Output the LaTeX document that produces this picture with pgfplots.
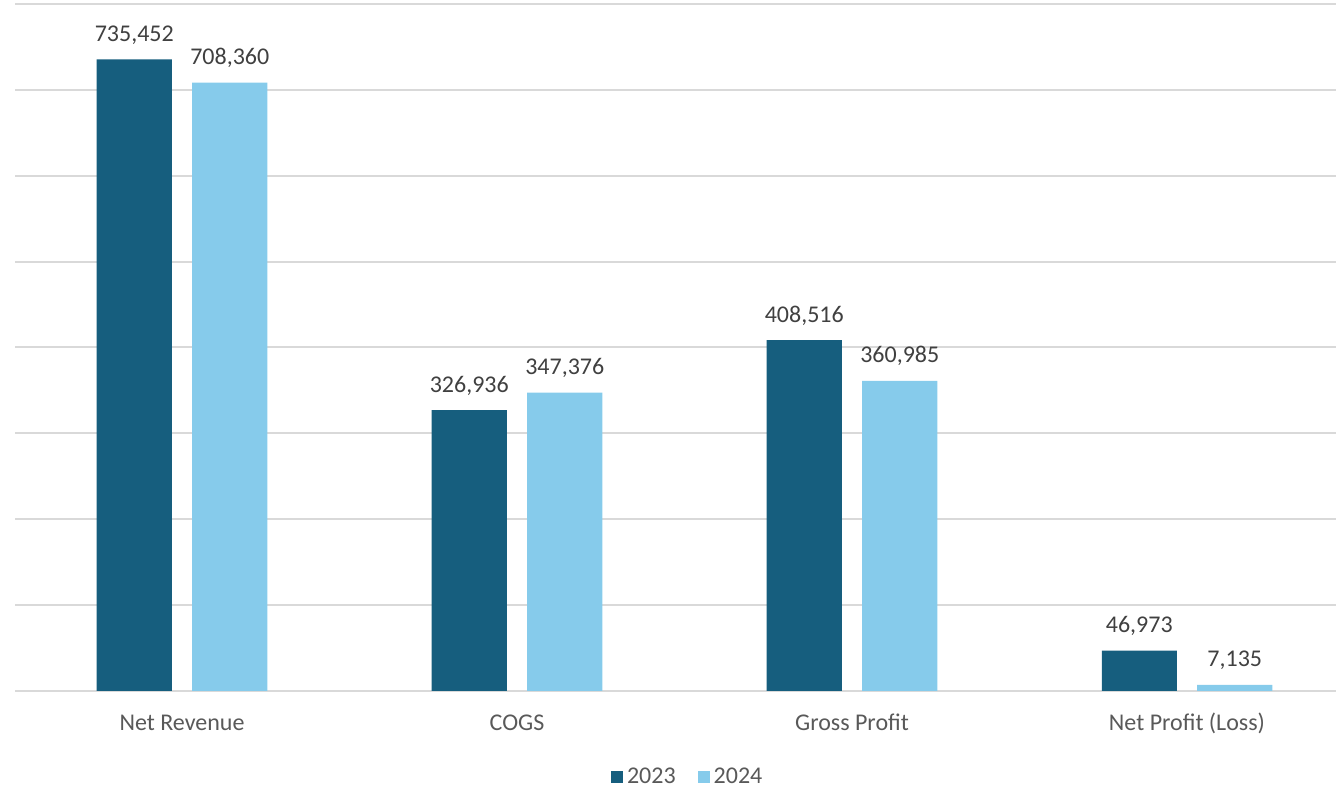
\documentclass[border=0pt]{standalone}
\usepackage{fontspec}
\setmainfont{Carlito}
\usepackage{pgfplots}
\pgfplotsset{compat=1.18}
\usetikzlibrary{calc}
\definecolor{cdark}{RGB}{22,94,126}
\definecolor{clight}{RGB}{134,203,235}
\definecolor{cgrid}{RGB}{217,217,217}
\definecolor{ctick}{RGB}{89,89,89}
\definecolor{clabel}{RGB}{64,64,64}
\begin{document}
\begin{tikzpicture}
\begin{axis}[
  name=ax,
  scale only axis,
  width=660.5pt, height=343.5pt,
  xmin=-0.4985, xmax=3.4448,
  ymin=0, ymax=800000,
  ytick={0,100000,...,800000},
  yticklabel=\empty,
  ymajorgrids,
  grid style={cgrid, line width=1pt},
  axis line style={draw=none},
  major tick length=0pt,
  xtick={0,1,2,3},
  xticklabels={Net Revenue, COGS, Gross Profit, Net Profit (Loss)},
  xticklabel style={font=\fontsize{12pt}{14pt}\selectfont, text=ctick, anchor=base, yshift=-20pt},
  ybar,
  bar width=0.224,
  nodes near coords,
  /pgf/number format/.cd, fixed, precision=0, 1000 sep={,}, assume math mode=true,
  /pgfplots/.cd,
  nodes near coords style={font=\fontsize{12pt}{14pt}\selectfont, text=clabel, anchor=base, yshift=9pt},
  legend columns=2,
  legend style={draw=none, at={(rel axis cs:0.51,0)}, anchor=center, yshift=-43pt,
    font=\fontsize{12pt}{14pt}\selectfont, text=ctick,
    /tikz/every even column/.append style={column sep=9pt}},
  legend image code/.code={\fill[#1] (0pt,-3pt) rectangle (6pt,3pt);},
  legend cell align=left,
]
\addplot[fill=cdark, draw=none, bar shift=-0.1425] coordinates {(0,735452) (1,326936) (2,408516) (3,46973)};
\addplot[fill=clight, draw=none, bar shift=0.1425] coordinates {(0,708360) (1,347376) (2,360985) (3,7135)};
\legend{2023,2024}
\end{axis}
\pgfresetboundingbox
\path[use as bounding box] ($(ax.south west)+(-7.5pt,-48pt)$) rectangle ($(ax.north east)+(0,2pt)$);
\end{tikzpicture}
\end{document}
